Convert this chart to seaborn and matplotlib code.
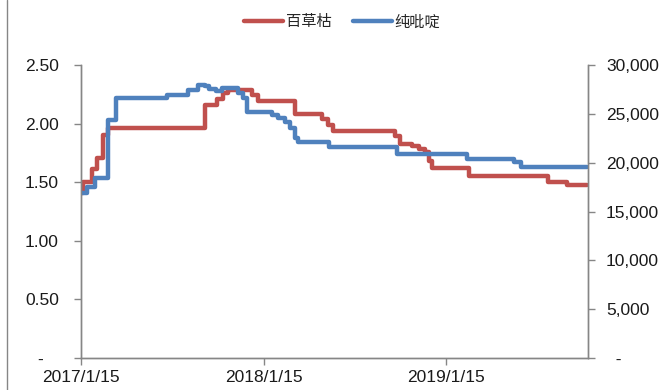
import matplotlib
matplotlib.use("Agg")
import matplotlib.pyplot as plt
import matplotlib.dates as mdates
from matplotlib.lines import Line2D
from matplotlib.ticker import FixedLocator, FuncFormatter
import pandas as pd
import seaborn as sns

# 百草枯 price (left axis), change dates and levels
paraquat_dates = [
    "2017-01-15", "2017-01-19", "2017-02-06", "2017-02-16", "2017-02-28",
    "2017-03-10", "2017-09-20", "2017-10-14", "2017-10-26", "2017-11-05",
    "2017-12-23", "2018-01-04", "2018-03-19", "2018-05-12", "2018-05-24",
    "2018-06-03", "2018-10-05", "2018-10-15", "2018-11-08", "2018-11-22",
    "2018-12-04", "2018-12-12", "2018-12-18", "2019-03-02", "2019-08-07",
    "2019-09-14", "2019-10-24",
]
paraquat_values = [
    1.41, 1.50, 1.61, 1.71, 1.90,
    1.96, 2.16, 2.21, 2.26, 2.29,
    2.24, 2.19, 2.08, 2.04, 1.99,
    1.94, 1.89, 1.83, 1.81, 1.78,
    1.76, 1.68, 1.62, 1.55, 1.50,
    1.48, 1.48,
]

# 纯吡啶 price (right axis), change dates and levels
pyridine_dates = [
    "2017-01-15", "2017-01-27", "2017-02-12", "2017-03-10", "2017-03-26",
    "2017-07-06", "2017-08-17", "2017-09-06", "2017-09-20", "2017-09-28",
    "2017-10-12", "2017-10-24", "2017-11-25", "2017-12-05", "2017-12-13",
    "2018-02-01", "2018-02-13", "2018-02-27", "2018-03-09", "2018-03-19",
    "2018-03-25", "2018-05-26", "2018-10-09", "2019-02-26", "2019-05-31",
    "2019-06-14", "2019-10-24",
]
pyridine_values = [
    16900, 17500, 18400, 24400, 26600,
    26900, 27400, 28000, 27800, 27500,
    27300, 27600, 27100, 26600, 25200,
    24900, 24600, 24200, 23600, 22500,
    22100, 21600, 20900, 20400, 20100,
    19600, 19600,
]

x_ticks = ["2017-01-15", "2018-01-15", "2019-01-15"]
x_tick_labels = ["2017/1/15", "2018/1/15", "2019/1/15"]
left_ticks = [0, 0.5, 1.0, 1.5, 2.0, 2.5]
right_ticks = [0, 5000, 10000, 15000, 20000, 25000, 30000]

paraquat = pd.DataFrame({"date": pd.to_datetime(paraquat_dates), "price": paraquat_values})
pyridine = pd.DataFrame({"date": pd.to_datetime(pyridine_dates), "price": pyridine_values})

sns.set_style("white")
plt.rcParams["font.family"] = ["Liberation Sans", "Noto Sans CJK SC", "DejaVu Sans"]

RED = "#C0504D"
BLUE = "#4F81BD"
GRAY = "#868686"
TEXT = "#1a1a1a"

fig = plt.figure(figsize=(6.64, 3.90), dpi=100)
ax = fig.add_axes([81 / 664, 1 - 358 / 390, (588 - 81) / 664, (358 - 65) / 390])
ax2 = ax.twinx()

sns.lineplot(data=paraquat, x="date", y="price", ax=ax, color=RED, lw=3.2,
             drawstyle="steps-post", sort=False, estimator=None)
sns.lineplot(data=pyridine, x="date", y="price", ax=ax2, color=BLUE, lw=3.2,
             drawstyle="steps-post", sort=False, estimator=None)

ax.set_xlim(pd.Timestamp("2017-01-15"), pd.Timestamp("2019-10-26"))
ax.set_ylim(0, 2.5)
ax2.set_ylim(0, 30000)

ax.xaxis.set_major_locator(FixedLocator(mdates.date2num(pd.to_datetime(x_ticks))))
ax.set_xticklabels(x_tick_labels)
ax.set_yticks(left_ticks)
ax.yaxis.set_major_formatter(FuncFormatter(lambda v, p: "-   " if v == 0 else f"{v:.2f}"))
ax2.set_yticks(right_ticks)
ax2.yaxis.set_major_formatter(FuncFormatter(lambda v, p: "  -" if v == 0 else f"{int(v):,}"))

for a in (ax, ax2):
    a.set_xlabel("")
    a.set_ylabel("")
    a.spines["top"].set_visible(False)
    for s in ("left", "right", "bottom"):
        a.spines[s].set_color(GRAY)
        a.spines[s].set_linewidth(1.0)
    a.tick_params(colors=GRAY, labelcolor=TEXT, length=5, width=1.0, direction="out")

ax.tick_params(axis="x", labelsize=12.5, pad=4, bottom=True)
ax.tick_params(axis="y", labelsize=12.5, pad=11, left=True)
ax2.tick_params(axis="y", labelsize=12.5, pad=8, right=True)

handles = [Line2D([], [], color=RED, lw=3.2), Line2D([], [], color=BLUE, lw=3.2)]
fig.legend(handles, ["百草枯", "纯吡啶"], loc="center", bbox_to_anchor=(0.515, 0.944),
           ncol=2, frameon=False, handlelength=2.6, handletextpad=0.15,
           columnspacing=1.4, prop={"family": ["Noto Sans CJK SC", "DejaVu Sans"], "size": 11})

# thin frame line down the left edge of the figure
fig.add_artist(Line2D([7 / 664, 7 / 664], [0, 1], color=GRAY, lw=1.0, transform=fig.transFigure))

fig.savefig("out.png", dpi=100)
